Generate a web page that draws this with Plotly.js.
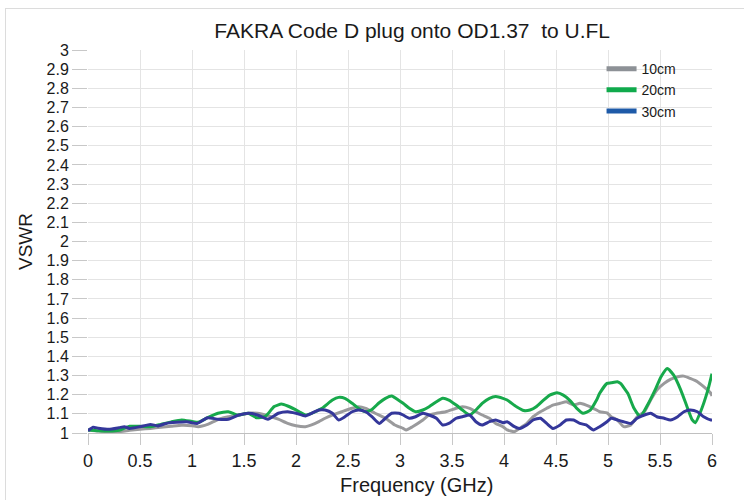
<!DOCTYPE html>
<html>
<head>
<meta charset="utf-8">
<script src="https://cdn.plot.ly/plotly-3.0.1.min.js"></script>
<style>
  html, body { margin: 0; padding: 0; background: #fff; }
  #frame { position: absolute; left: 5px; top: 8px; width: 800px; height: 600px; border: 1px solid #dcdcdc; pointer-events: none; z-index: 2; }
  #chart { position: absolute; left: 0; top: 0; width: 744px; height: 500px; }
</style>
</head>
<body>
<div id="chart"></div>
<div id="frame"></div>
<script>
// ---- data ----
const titleText = "FAKRA Code D plug onto OD1.37\u00a0 to U.FL";
const xTitleText = "Frequency (GHz)";
const yTitleText = "VSWR";
const seriesNames = ["10cm", "20cm", "30cm"];

const freq10 = [0, 0.1, 0.2, 0.3, 0.4, 0.5, 0.6, 0.7, 0.8, 0.9, 1.0, 1.06, 1.15, 1.25, 1.35, 1.44, 1.54, 1.63, 1.73, 1.83, 1.92, 2.0, 2.09, 2.15, 2.22, 2.28, 2.35, 2.44, 2.54, 2.6, 2.67, 2.76, 2.86, 2.95, 3.03, 3.06, 3.12, 3.22, 3.28, 3.35, 3.44, 3.54, 3.6, 3.67, 3.73, 3.79, 3.86, 3.92, 3.99, 4.03, 4.1, 4.15, 4.22, 4.28, 4.35, 4.41, 4.47, 4.54, 4.6, 4.67, 4.73, 4.79, 4.86, 4.92, 4.99, 5.03, 5.09, 5.15, 5.22, 5.28, 5.35, 5.41, 5.47, 5.54, 5.6, 5.67, 5.73, 5.79, 5.86, 5.92, 5.99, 6.0];
const vswr10 = [1.016, 1.01, 1.007, 1.007, 1.014, 1.02, 1.024, 1.03, 1.035, 1.04, 1.038, 1.033, 1.045, 1.07, 1.085, 1.092, 1.103, 1.103, 1.09, 1.072, 1.05, 1.038, 1.033, 1.042, 1.059, 1.077, 1.094, 1.111, 1.129, 1.137, 1.129, 1.103, 1.077, 1.042, 1.024, 1.016, 1.033, 1.068, 1.094, 1.103, 1.111, 1.129, 1.137, 1.129, 1.111, 1.094, 1.077, 1.05, 1.033, 1.016, 1.007, 1.024, 1.05, 1.085, 1.111, 1.129, 1.146, 1.155, 1.163, 1.146, 1.155, 1.146, 1.129, 1.111, 1.105, 1.085, 1.068, 1.033, 1.042, 1.085, 1.111, 1.172, 1.224, 1.259, 1.28, 1.294, 1.297, 1.285, 1.268, 1.242, 1.207, 1.193];

const freq20 = [0, 0.1, 0.2, 0.3, 0.4, 0.5, 0.6, 0.7, 0.8, 0.9, 1.0, 1.06, 1.15, 1.25, 1.35, 1.44, 1.54, 1.62, 1.7, 1.73, 1.79, 1.86, 1.92, 1.99, 2.03, 2.09, 2.15, 2.25, 2.35, 2.41, 2.47, 2.54, 2.6, 2.67, 2.73, 2.8, 2.86, 2.92, 2.99, 3.03, 3.09, 3.15, 3.22, 3.28, 3.35, 3.41, 3.47, 3.54, 3.6, 3.67, 3.73, 3.79, 3.86, 3.92, 3.99, 4.03, 4.12, 4.19, 4.25, 4.31, 4.38, 4.44, 4.51, 4.57, 4.63, 4.7, 4.76, 4.83, 4.89, 4.92, 4.99, 5.03, 5.09, 5.12, 5.19, 5.25, 5.31, 5.38, 5.46, 5.51, 5.57, 5.63, 5.7, 5.76, 5.81, 5.84, 5.89, 5.96, 6.0];
const vswr20 = [1.016, 1.012, 1.01, 1.014, 1.035, 1.035, 1.033, 1.045, 1.058, 1.068, 1.06, 1.056, 1.08, 1.103, 1.111, 1.094, 1.103, 1.08, 1.085, 1.1, 1.138, 1.151, 1.141, 1.123, 1.111, 1.094, 1.103, 1.129, 1.172, 1.186, 1.181, 1.155, 1.129, 1.111, 1.123, 1.158, 1.181, 1.193, 1.17, 1.155, 1.129, 1.111, 1.12, 1.137, 1.163, 1.181, 1.172, 1.146, 1.12, 1.094, 1.12, 1.155, 1.181, 1.19, 1.181, 1.172, 1.137, 1.117, 1.12, 1.137, 1.172, 1.198, 1.21, 1.198, 1.172, 1.129, 1.103, 1.12, 1.172, 1.207, 1.259, 1.262, 1.268, 1.259, 1.207, 1.129, 1.085, 1.146, 1.233, 1.294, 1.337, 1.303, 1.224, 1.137, 1.068, 1.054, 1.111, 1.224, 1.31];

const freq30 = [0, 0.05, 0.1, 0.2, 0.3, 0.35, 0.4, 0.5, 0.6, 0.67, 0.75, 0.85, 0.95, 1.05, 1.15, 1.25, 1.35, 1.45, 1.55, 1.63, 1.73, 1.83, 1.92, 2.0, 2.09, 2.15, 2.22, 2.28, 2.35, 2.41, 2.47, 2.54, 2.6, 2.67, 2.73, 2.8, 2.86, 2.92, 2.99, 3.03, 3.09, 3.15, 3.22, 3.28, 3.35, 3.41, 3.47, 3.54, 3.6, 3.67, 3.73, 3.79, 3.86, 3.92, 3.99, 4.03, 4.1, 4.15, 4.22, 4.28, 4.35, 4.41, 4.47, 4.54, 4.6, 4.67, 4.73, 4.79, 4.86, 4.92, 4.99, 5.03, 5.09, 5.15, 5.22, 5.28, 5.35, 5.41, 5.47, 5.54, 5.6, 5.67, 5.73, 5.79, 5.86, 5.92, 5.99, 6.0];
const vswr30 = [1.012, 1.03, 1.025, 1.019, 1.028, 1.033, 1.024, 1.033, 1.045, 1.037, 1.05, 1.056, 1.059, 1.05, 1.08, 1.072, 1.072, 1.094, 1.103, 1.094, 1.072, 1.103, 1.111, 1.103, 1.089, 1.103, 1.12, 1.12, 1.103, 1.068, 1.085, 1.111, 1.12, 1.111, 1.085, 1.05, 1.077, 1.103, 1.103, 1.094, 1.077, 1.085, 1.103, 1.094, 1.077, 1.042, 1.05, 1.077, 1.085, 1.094, 1.059, 1.042, 1.059, 1.068, 1.054, 1.059, 1.033, 1.024, 1.042, 1.068, 1.077, 1.05, 1.024, 1.042, 1.068, 1.068, 1.05, 1.042, 1.016, 1.033, 1.059, 1.077, 1.068, 1.059, 1.05, 1.077, 1.094, 1.103, 1.085, 1.077, 1.068, 1.085, 1.111, 1.12, 1.111, 1.085, 1.068, 1.068];

const xTickVals = [0, 0.5, 1, 1.5, 2, 2.5, 3, 3.5, 4, 4.5, 5, 5.5, 6];
const xTickText = ["0", "0.5", "1", "1.5", "2", "2.5", "3", "3.5", "4", "4.5", "5", "5.5", "6"];
const yTickVals = [1, 1.1, 1.2, 1.3, 1.4, 1.5, 1.6, 1.7, 1.8, 1.9, 2, 2.1, 2.2, 2.3, 2.4, 2.5, 2.6, 2.7, 2.8, 2.9, 3];
const yTickText = ["1", "1.1", "1.2", "1.3", "1.4", "1.5", "1.6", "1.7", "1.8", "1.9", "2", "2.1", "2.2", "2.3", "2.4", "2.5", "2.6", "2.7", "2.8", "2.9", "3"];

// ---- styles ----
const lineColors = ["#9a9a9c", "#17a94b", "#34379a"];
const legendColors = ["#8d9196", "#10aa4c", "#1e5aa8"];
const FONT = "Liberation Sans, Arial, Helvetica, sans-serif";

const xs = [freq10, freq20, freq30];
const ys = [vswr10, vswr20, vswr30];

const traces = [];
for (let i = 0; i < 3; i++) {
  traces.push({
    x: xs[i], y: ys[i], type: "scatter", mode: "lines",
    name: seriesNames[i], showlegend: false,
    line: { color: lineColors[i], width: 3, shape: "spline", smoothing: 0.5 },
    hoverinfo: "x+y+name"
  });
}
for (let i = 0; i < 3; i++) {
  traces.push({
    x: [null], y: [null], type: "scatter", mode: "lines",
    name: seriesNames[i], showlegend: true,
    line: { color: legendColors[i], width: 5 }
  });
}

const layout = {
  width: 744, height: 500,
  paper_bgcolor: "rgba(0,0,0,0)", plot_bgcolor: "#ffffff",
  margin: { l: 88, r: 32, t: 50, b: 67 },
  font: { family: FONT, color: "#1a1a1a" },
  title: {
    text: titleText, font: { family: FONT, size: 21, color: "#1a1a1a" },
    x: 0.554, xanchor: "center", xref: "container", y: 0.938, yanchor: "middle", yref: "container"
  },
  xaxis: {
    range: [0, 6], tickmode: "array", tickvals: xTickVals, ticktext: xTickText,
    showgrid: true, gridcolor: "#e4e4e4", gridwidth: 1,
    zeroline: false, showline: true, linecolor: "#c0c0c0", linewidth: 1, mirror: false,
    ticks: "outside", ticklen: 11, tickcolor: "#c8c8c8", tickwidth: 1,
    tickfont: { family: FONT, size: 18, color: "#1a1a1a" },
    fixedrange: true
  },
  yaxis: {
    range: [1, 3], tickmode: "array", tickvals: yTickVals, ticktext: yTickText,
    showgrid: true, gridcolor: "#e4e4e4", gridwidth: 1,
    zeroline: false, showline: false,
    ticks: "outside", ticklen: 15, tickcolor: "#c8c8c8", tickwidth: 1,
    tickfont: { family: FONT, size: 16, color: "#1a1a1a" },
    title: { text: yTitleText, font: { family: FONT, size: 19, color: "#1a1a1a" }, standoff: 8 },
    fixedrange: true
  },
  annotations: [{
    text: xTitleText, xref: "paper", yref: "paper", x: 0.527, y: -0.136,
    xanchor: "center", yanchor: "middle", showarrow: false,
    font: { family: FONT, size: 20, color: "#1a1a1a" }
  }],
  legend: {
    x: 0.823, xanchor: "left", y: 0.992, yanchor: "top",
    bgcolor: "rgba(255,255,255,0)", borderwidth: 0,
    font: { family: FONT, size: 14, color: "#1a1a1a" },
    tracegroupgap: 0, itemwidth: 30
  },
  showlegend: true
};

Plotly.newPlot("chart", traces, layout, { displayModeBar: false, staticPlot: true });
</script>
</body>
</html>
